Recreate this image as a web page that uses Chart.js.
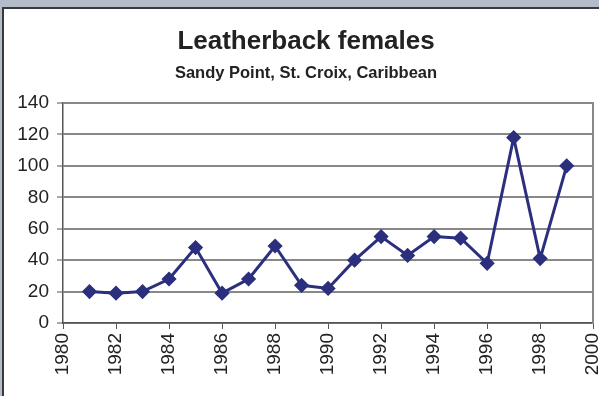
<!DOCTYPE html>
<html>
<head>
<meta charset="utf-8">
<script src="https://cdn.jsdelivr.net/npm/chart.js@4"></script>
<style>
  html, body { margin: 0; padding: 0; overflow: hidden; width: 599px; height: 396px; background: #b5bcc9; }
  .frame { position: absolute; left: 2px; top: 7px; width: 620px; height: 400px; background: #ffffff;
           border-left: 2px solid #3a3a3a; border-top: 2px solid #3a3a3a; }
  #myChart { position: absolute; left: 0; top: 0; }
</style>
</head>
<body>
<div class="frame"></div>
<canvas id="myChart" width="620" height="396"></canvas>
<script>
// nesting females counted per year
const years = [1981, 1982, 1983, 1984, 1985, 1986, 1987, 1988, 1989, 1990,
               1991, 1992, 1993, 1994, 1995, 1996, 1997, 1998, 1999];
const females = [20, 19, 20, 28, 48, 19, 28, 49, 24, 22,
                 40, 55, 43, 55, 54, 38, 118, 41, 100];
const yTicks = [0, 20, 40, 60, 80, 100, 120, 140];
const xTicks = [1980, 1982, 1984, 1986, 1988, 1990, 1992, 1994, 1996, 1998, 2000];

const fontFamily = '"Liberation Sans", Arial, sans-serif';
const points = years.map((y, i) => ({ x: y, y: females[i] }));

const ctx = document.getElementById('myChart');

new Chart(ctx, {
  type: 'line',
  data: {
    datasets: [
      {
        label: 'Leatherback females',
        data: points,
        borderColor: '#2b2f7e',
        backgroundColor: '#2b2f7e',
        borderWidth: 3,
        pointStyle: 'rectRot',
        pointRadius: 5.5,
        tension: 0,
      },
    ],
  },
  options: {
    responsive: false,
    animation: false,
    layout: {
      padding: { left: 16, right: 24, top: 8, bottom: 0 },
    },
    plugins: {
      legend: { display: false },
      tooltip: { enabled: false },
      title: {
        display: true,
        text: 'Leatherback females',
        color: '#222',
        font: { family: fontFamily, size: 26, weight: 'bold' },
        padding: { top: 18, bottom: 3 },
      },
      subtitle: {
        display: true,
        text: 'Sandy Point, St. Croix, Caribbean',
        color: '#222',
        font: { family: fontFamily, size: 16.5, weight: 'bold' },
        padding: { top: 3, bottom: 20 },
      },
    },
    scales: {
      x: {
        type: 'linear',
        min: 1980,
        max: 2000,
        afterBuildTicks: (axis) => { axis.ticks = xTicks.map(v => ({ value: v })); },
        afterFit: (axis) => { axis.height = 73; },
        grid: { drawOnChartArea: false, drawTicks: true, tickLength: 6, color: '#555', lineWidth: 1 },
        border: { color: '#555', width: 1.5 },
        ticks: {
          color: '#222',
          font: { family: fontFamily, size: 19 },
          minRotation: 90,
          maxRotation: 90,
          padding: 4,
          callback: (value) => String(value),
        },
      },
      y: {
        min: 0,
        max: 140,
        afterBuildTicks: (axis) => { axis.ticks = yTicks.map(v => ({ value: v })); },
        afterFit: (axis) => { axis.width = 47; },
        grid: { color: '#888', lineWidth: 2, tickLength: 6, tickColor: '#555', tickWidth: 1 },
        border: { color: '#555', width: 1.5 },
        ticks: {
          color: '#222',
          font: { family: fontFamily, size: 19 },
          padding: 8,
        },
      },
      yRight: {
        position: 'right',
        min: 0,
        max: 140,
        afterFit: (axis) => { axis.width = 0; },
        grid: { display: false },
        border: { display: true, color: '#888', width: 2 },
        ticks: { display: false },
      },
    },
  },
});
</script>
</body>
</html>
